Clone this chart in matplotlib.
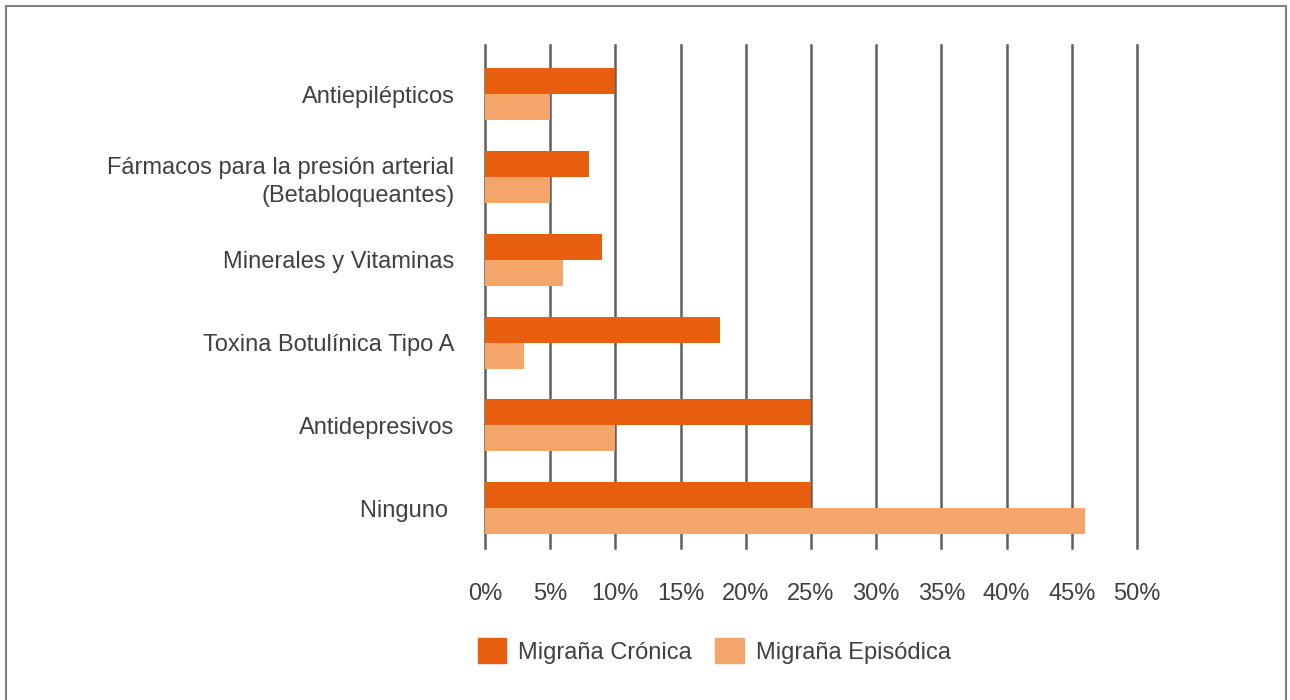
import matplotlib
matplotlib.use("Agg")
import matplotlib.pyplot as plt
from matplotlib.patches import Patch, Rectangle

plt.rcParams['font.family'] = ['Liberation Sans', 'DejaVu Sans']

# Datos (de abajo hacia arriba)
categorias = ["Ninguno ", "Antidepresivos", "Toxina Botulínica Tipo A",
              "Minerales y Vitaminas",
              "Fármacos para la presión arterial\n(Betabloqueantes)",
              "Antiepilépticos"]
cronica = [25, 25, 18, 9, 8, 10]
episodica = [46, 10, 3, 6, 5, 5]
ticks = [0, 5, 10, 15, 20, 25, 30, 35, 40, 45, 50]

col_cronica = "#E65E0E"
col_episodica = "#F4A66A"
col_texto = "#404040"

fig = plt.figure(figsize=(12.9, 7), dpi=100)
ax = fig.add_axes([0.376, 0.217, 0.5054, 0.7186])

y = list(range(len(categorias)))
h = 0.314
ax.barh(y, cronica, height=h, align='edge', color=col_cronica, zorder=3)
ax.barh(y, episodica, height=-h, align='edge', color=col_episodica, zorder=3)

ax.set_xlim(0, 50)
ax.set_ylim(-0.483, 5.592)
ax.set_xticks(ticks)
ax.set_xticklabels([f"{t}%" for t in ticks])
ax.set_yticks(y)
ax.set_yticklabels(categorias, linespacing=1.35)

ax.grid(axis='x', color="#5f5f5f", linewidth=1.8, zorder=1)
ax.grid(axis='y', visible=False)
for gl in ax.get_xgridlines():
    gl.set_clip_on(False)
for s in ax.spines.values():
    s.set_visible(False)
ax.tick_params(axis='both', length=0, labelsize=17, colors=col_texto)
ax.tick_params(axis='y', pad=22)
ax.tick_params(axis='x', pad=25)

handles = [Patch(color=col_cronica, label="Migraña Crónica"),
           Patch(color=col_episodica, label="Migraña Episódica")]
leg = fig.legend(handles=handles, loc='center left', bbox_to_anchor=(0.354, 0.07),
                 ncol=2, frameon=False, fontsize=17, handlelength=1.2,
                 handleheight=1.2, handletextpad=0.5, columnspacing=1.0)
for t in leg.get_texts():
    t.set_color(col_texto)

# marco exterior
fig.patches.append(Rectangle((0.0045, -0.01), 0.9925, 1.0015, transform=fig.transFigure,
                             fill=False, edgecolor="#808080", linewidth=1.5))

fig.savefig("out.png", dpi=100)
